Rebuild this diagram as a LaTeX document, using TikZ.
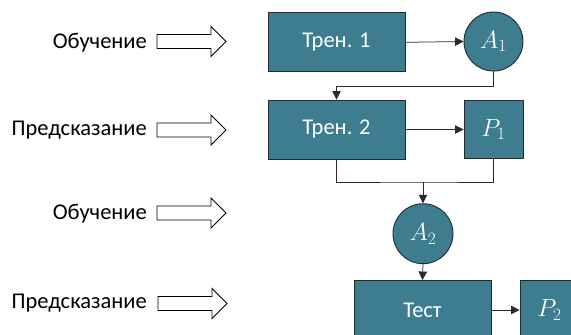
\documentclass[tikz,border=0pt]{standalone}
\usepackage{fontspec}
\setmainfont{Carlito}
\usetikzlibrary{arrows.meta}
\definecolor{tealfill}{HTML}{3E7D8F}
\definecolor{edgecol}{HTML}{1E2B30}
\definecolor{linkcol}{HTML}{2A2A2A}
\begin{document}
\begin{tikzpicture}[x=1pt,y=-1pt,
  stage/.style={draw=edgecol, line width=0.9pt, fill=tealfill, text=white,
    font=\fontsize{22.5}{27}\selectfont, inner sep=0pt},
  blockbox/.style={stage, rectangle, minimum width=137pt, minimum height=59pt},
  smallbox/.style={stage, rectangle, minimum width=59pt, minimum height=58pt},
  roundnode/.style={stage, circle, minimum size=59pt},
  mathlabel/.style={font=\fontsize{25}{30}\selectfont},
  phase/.style={font=\fontsize{22.5}{27}\selectfont, inner sep=0pt, anchor=east},
  link/.style={draw=linkcol, line width=0.75pt, -{Triangle[length=8.5pt,width=8.5pt]}},
  plainlink/.style={draw=linkcol, line width=0.75pt},
  fatarrow/.pic={\draw[line width=0.9pt, fill=white, line join=miter]
    (0,-7) -- (54,-7) -- (54,-15) -- (69,0) -- (54,15) -- (54,7) -- (0,7) -- cycle;}
]
\clip (0,0) rectangle (571,335);

% phase labels with hollow arrows
\node[phase] (l1) at (147,43) {Обучение};
\node[phase] (l2) at (147,130) {Предсказание};
\node[phase] (l3) at (147,213.5) {Обучение};
\node[phase] (l4) at (147,303.5) {Предсказание};
\pic at (157,41.5) {fatarrow};
\pic at (157,130) {fatarrow};
\pic at (157,213) {fatarrow};
\pic at (158,303.5) {fatarrow};

% blocks
\node[blockbox] (t1) at (336.5,42.3) {Трен. 1};
\node[roundnode, mathlabel] (a1) at (493.5,41.5) {$A_1$};
\node[blockbox] (t2) at (336.5,129.5) {Трен. 2};
\node[smallbox, mathlabel] (p1) at (493.5,129.5) {$P_1$};
\node[roundnode, mathlabel, minimum size=60pt] (a2) at (423,233.7) {$A_2$};
\node[blockbox] (test) at (422.5,310) {Тест};
\node[blockbox, mathlabel, minimum width=59pt] (p2) at (549.5,310) {$P_2$};

% connectors
\coordinate (join) at (423,182);
\draw[link] (t1.east) -- (a1.west);
\draw[link] (a1.south) -- ++(0,14.5) -| (t2.north);
\draw[link] (t2.east) -- (p1.west);
\draw[plainlink] (t2.south) |- (join) -| (p1.south);
\draw[link] (join) -- (a2.north);
\draw[link] (a2.south) -- (test.north);
\draw[link] (test.east) -- (p2.west);
\end{tikzpicture}
\end{document}
